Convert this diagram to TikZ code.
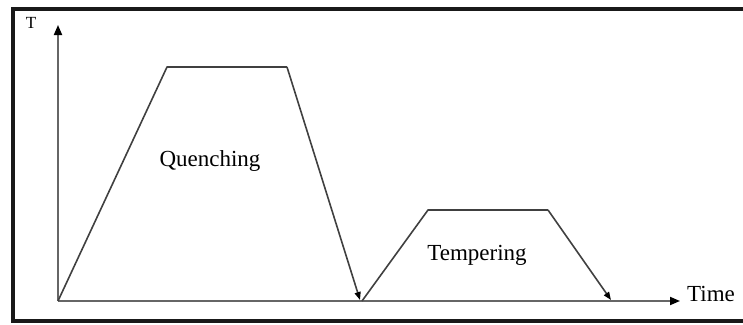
\documentclass[tikz,border=0pt]{standalone}
\usepackage{fontspec}
\setmainfont{Liberation Serif}
\usetikzlibrary{arrows.meta, positioning}

\begin{document}
\begin{tikzpicture}[
  x=1pt, y=-1pt,
  axis/.style={draw=black!60, line width=1.8pt, -{Triangle[length=10pt, width=8pt, color=black]}},
  curve/.style={draw=black!75, line width=1.6pt, line join=round},
  down/.style={curve, -{Triangle[length=8pt, width=6pt, color=black]}},
  lbl/.style={font=\fontsize{23}{26}\selectfont, inner sep=0pt},
  frame/.style={draw=black!90, line width=4pt}
]

\useasboundingbox (0,0) rectangle (743,324);
\draw [frame] (743,9) -- (13,9) -- (13,321) -- (743,321);

% axes
\coordinate (O) at (58,301);
\coordinate (ytop) at (58,25);
\coordinate (xend) at (680,301);
\draw [axis] (O) -- (ytop);
\draw [axis] (O) -- (xend);
\node (T) [font=\fontsize{17}{19}\selectfont, inner sep=0pt] at (31,23) {T};
\node (time) [lbl, right=7pt of xend, yshift=7pt] {Time};

% quenching cycle
\coordinate (q1) at (167,67);
\coordinate (q2) at (287,67);
\coordinate (q3) at (360,300);
\draw [curve] (O) -- (q1) -- (q2);
\draw [down] (q2) -- (q3);
\node (quench) [lbl] at (210,161) {Quenching};

% tempering cycle
\coordinate (t0) at (362,301);
\coordinate (t1) at (428,210);
\coordinate (t2) at (548,210);
\coordinate (t3) at (611,300);
\draw [curve] (t0) -- (t1) -- (t2);
\draw [down] (t2) -- (t3);
\node (temper) [lbl] at (477,255) {Tempering};

\end{tikzpicture}
\end{document}
